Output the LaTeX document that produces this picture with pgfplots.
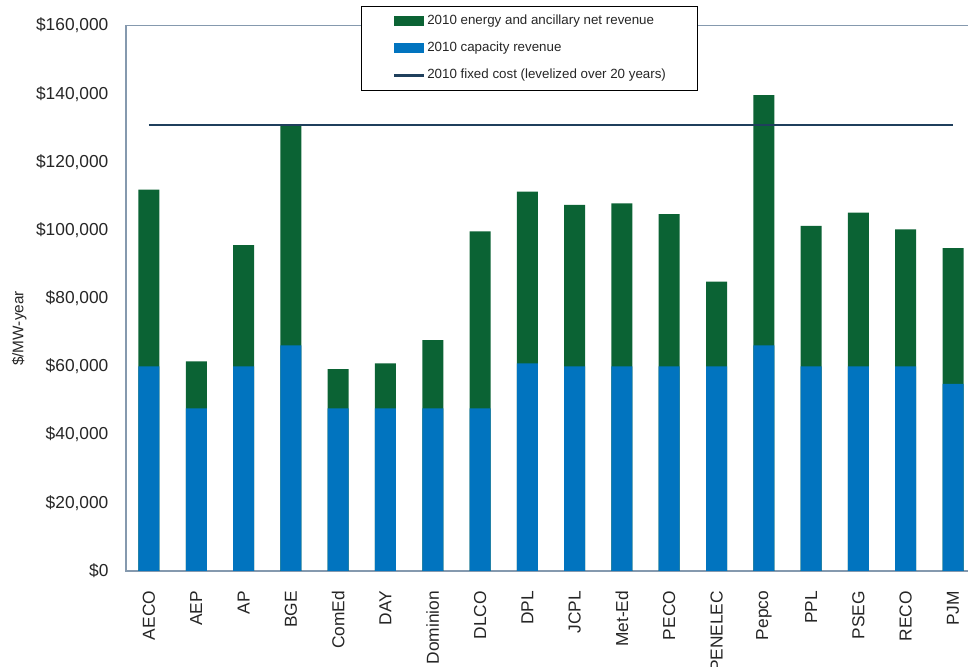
\documentclass[border=0pt]{standalone}
\usepackage{fontspec}
\setmainfont{Liberation Sans}
\usepackage{pgfplots}
\usepackage{pgfplotstable}
\pgfplotsset{compat=1.18}
\definecolor{egreen}{HTML}{0B6334}
\definecolor{cblue}{HTML}{0174BF}
\definecolor{fline}{HTML}{1F3F5C}
\definecolor{axgray}{HTML}{8599AE}
\definecolor{txt}{HTML}{262626}

\pgfplotstableread{
x cap energy
0 60000 51900
1 47700 13800
2 60000 35600
3 66200 64300
4 47700 11500
5 47700 13200
6 47700 20000
7 47700 51900
8 60900 50400
9 60000 47400
10 60000 47800
11 60000 44700
12 60000 24900
13 66200 73400
14 60000 41200
15 60000 45100
16 60000 40200
17 54900 39800
}\data

\begin{document}
\begin{tikzpicture}
\begin{axis}[
  scale only axis, width=633.75pt, height=409.1pt,
  xmin=-0.486, xmax=17.38, ymin=0, ymax=160000,
  scaled y ticks=false,
  axis line style={axgray, line width=1.1pt},
  major tick length=0pt,
  xtick={0,...,17},
  xticklabels={AECO,AEP,AP,BGE,ComEd,DAY,Dominion,DLCO,DPL,JCPL,Met-Ed,PECO,PENELEC,Pepco,PPL,PSEG,RECO,PJM},
  ytick={0,20000,40000,60000,80000,100000,120000,140000,160000},
  yticklabels={{\$0},{\$20,000},{\$40,000},{\$60,000},{\$80,000},{\$100,000},{\$120,000},{\$140,000},{\$160,000}},
  tick label style={font=\fontsize{13}{15}\selectfont, text=txt},
  yticklabel style={inner sep=0pt, xshift=-13pt},
  xticklabel style={yshift=-14.8pt, rotate=90, anchor=east, inner sep=0pt},
  ylabel={\$/MW-year},
  every axis y label/.style={at={(axis description cs:0,0.4446)}, xshift=-80pt, rotate=90, anchor=center, font=\fontsize{11.5}{13}\selectfont, text=txt},
  legend style={at={(axis description cs:0,1)}, anchor=north west, xshift=176pt, yshift=14.85pt,
    draw=black, line width=0.75pt, fill=white, font=\fontsize{10}{12}\selectfont, text=txt,
    inner xsep=24pt, inner ysep=6.25pt, row sep=11pt,
    nodes={inner sep=0pt, text height=7.3pt, text depth=2.2pt},
    /tikz/every odd column/.append style={column sep=2pt}},
  legend cell align=left,
]
\addplot[ybar, bar width=15.75pt, bar shift=0pt, fill=egreen, draw=none,
  legend image code/.code={\fill[egreen] (0pt,-3.6pt) rectangle (22pt,3.6pt);}]
  table[x=x, y expr=\thisrow{cap}+\thisrow{energy}] {\data};
\addlegendentry{2010 energy and ancillary net revenue}
\addplot[ybar, bar width=15.75pt, bar shift=0pt, fill=cblue, draw=none,
  legend image code/.code={\fill[cblue] (0pt,-3.6pt) rectangle (22pt,3.6pt);}]
  table[x=x, y=cap] {\data};
\addlegendentry{2010 capacity revenue}
\addplot[fline, line width=1.6pt, mark=none,
  legend image code/.code={\draw[fline, line width=1.6pt] (0pt,0pt) -- (22pt,0pt);}]
  coordinates {(0,130800) (17,130800)};
\addlegendentry{2010 fixed cost (levelized over 20 years)}
\end{axis}
\pgfresetboundingbox
\path (-94.5pt,-72pt) rectangle (631.5pt,428.25pt);
\end{tikzpicture}
\end{document}
